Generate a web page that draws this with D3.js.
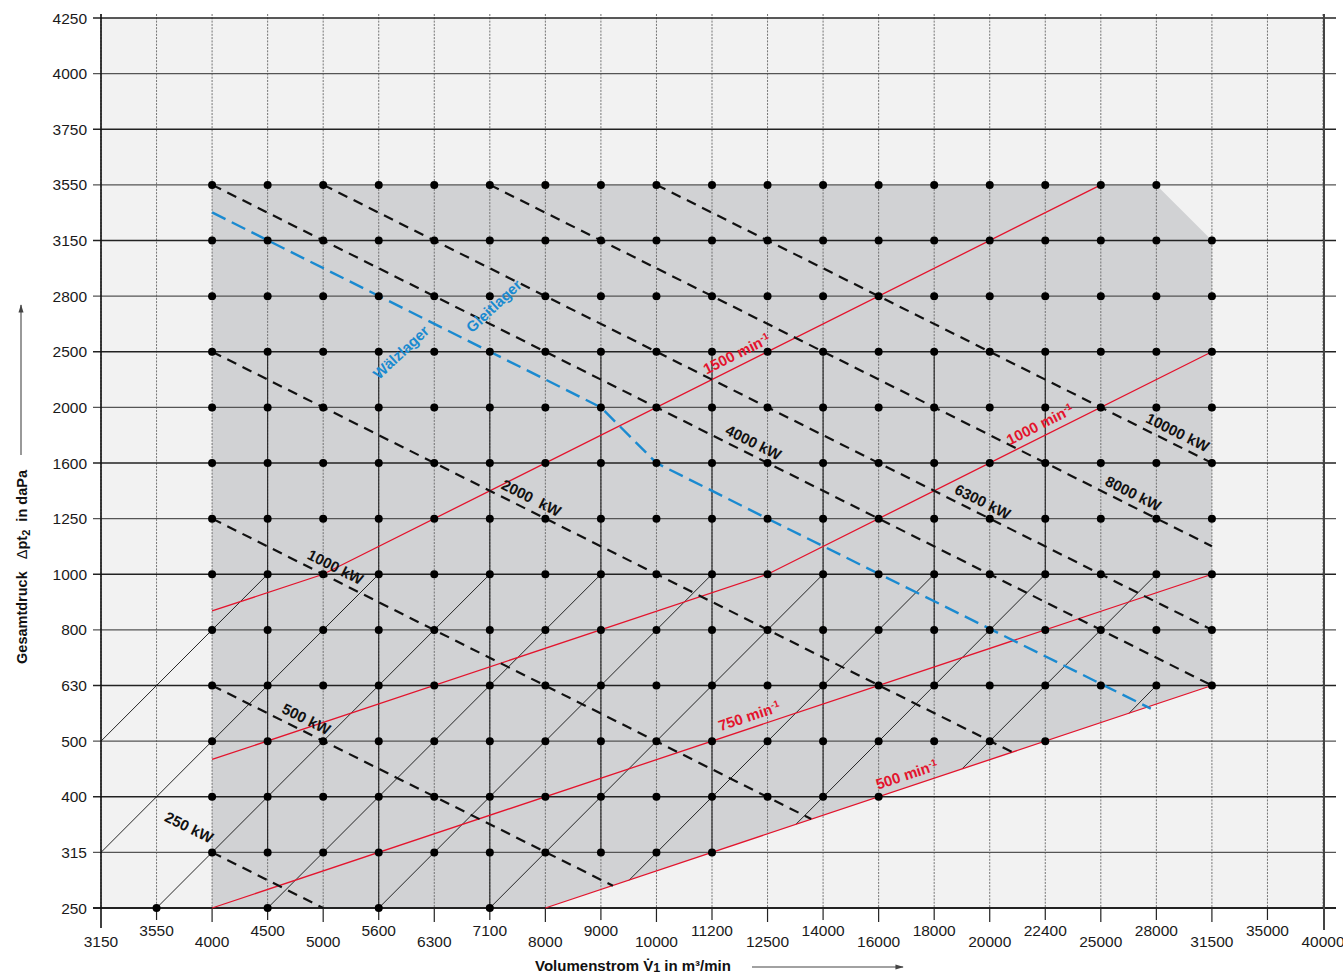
<!DOCTYPE html>
<html>
<head>
<meta charset="utf-8">
<script src="https://cdn.jsdelivr.net/npm/d3@7"></script>
<style>
  body { margin: 0; background: #fff; font-family: "Liberation Sans", Arial, sans-serif; }
</style>
</head>
<body>
<div id="graf"></div>
<script>
// Kategorien (Achsen)
const xVals = [3150, 3550, 4000, 4500, 5000, 5600, 6300, 7100, 8000, 9000, 10000, 11200, 12500, 14000, 16000, 18000, 20000, 22400, 25000, 28000, 31500, 35000, 40000]
const yVals = [250, 315, 400, 500, 630, 800, 1000, 1250, 1600, 2000, 2500, 2800, 3150, 3550, 3750, 4000, 4250]

// Kennfeld (grau hinterlegt)
const feld = [[4000, 3550], [28000, 3550], [31500, 3150], [31500, 630], [22400, 500], [16000, 400], [11200, 315], [8000, 250], [4000, 250]]

// Punkte je Druckstufe: [Druck, von, bis]
const dotRows = [
  [315, 4000, 11200], [400, 4000, 16000], [500, 4000, 22400], [630, 4000, 31500],
  [800, 4000, 31500], [1000, 4000, 31500], [1250, 4000, 31500], [1600, 4000, 31500],
  [2000, 4000, 31500], [2500, 4000, 31500], [2800, 4000, 31500], [3150, 4000, 31500],
  [3550, 4000, 28000],
]
const dots250 = [3550, 4500, 5600, 7100]

// durchgezogene senkrechte Linien: [Volumenstrom, oben, unten]
const rahmen = [[4500, 2500, 315], [5600, 2500, 250], [7100, 2500, 250], [9000, 2500, 315], [11200, 2500, 315], [14000, 2500, 400], [18000, 2500, 630], [22400, 2500, 1000]]

// schräge Hilfslinien
const diagonalen = [
  [[3150, 500], [4500, 1000]], [[3150, 315], [5600, 1000]], [[3550, 250], [7100, 1000]],
  [[4500, 250], [9000, 1000]], [[5600, 250], [11200, 1000]], [[7100, 250], [14000, 1000]],
  [[9500, 282], [18000, 1000]], [[13250, 357], [22400, 1000]], [[19000, 450], [28000, 1000]],
  [[26500, 564], [28000, 630]],
]

// Drehzahlen (rot)
const drehzahlen = ["1500", "1000", "750", "500"]
const drehzahlLinien = [
  [[4000, 868], [5000, 1000], [25000, 3550]],
  [[4000, 467], [12500, 1000], [31500, 2500]],
  [[4000, 250], [31500, 1000]],
  [[8000, 250], [31500, 630]],
]
const drehzahlLabelAt = [11900, 22400, 12160, 17150]

// Leistungen (schwarz gestrichelt)
const leistungen = ["250 kW", "500 kW", "1000 kW", "2000\u00a0\u00a0kW", "4000 kW", "6300 kW", "8000 kW", "10000 kW"]
const leistungLinien = [
  [[4000, 315], [5000, 250]],
  [[4000, 630], [9216, 276]],
  [[4000, 1250], [13680, 366]],
  [[4000, 2500], [20985, 480]],
  [[4000, 3550], [31500, 630]],
  [[5000, 3550], [31500, 800]],
  [[7100, 3550], [31500, 1126]],
  [[10000, 3550], [31500, 1600]],
]
const leistungLabelAt = [3770, 4800, 5075, 7685, 12045, 19550, 26460, 29000]

// Lagergrenze (blau)
const lagergrenze = [[4000, 3352], [9000, 2000], [10000, 1600], [12500, 1250], [27700, 576]]
const lagerTexte = ["Wälzlager", "Gleitlager"]
const lagerTextAt = [[5880, 2495], [7165, 2746]]

// Layout
const W = 1343, H = 975
const plot = { left: 101, right: 1323, top: 18, bottom: 908 }

const svg = d3.select("#graf").append("svg").attr("width", W).attr("height", H)

// Skalen: gleichabständige Kategorien, dazwischen linear
const xp = d3.scalePoint().domain(xVals).range([plot.left, plot.right])
const yp = d3.scalePoint().domain(yVals).range([plot.bottom, plot.top])
const x = d3.scaleLinear().domain(xVals).range(xVals.map(v => xp(v)))
const y = d3.scaleLinear().domain(yVals).range(yVals.map(v => yp(v)))
const line = d3.line().x(d => x(d[0])).y(d => y(d[1]))

// Hintergrund
svg.append("rect")
  .attr("x", plot.left).attr("y", plot.top)
  .attr("width", plot.right - plot.left + 1).attr("height", plot.bottom - plot.top)
  .attr("fill", "#f2f2f2")

svg.append("path").attr("d", line(feld) + "Z").attr("fill", "#d1d2d4")

// senkrechte Rasterlinien (punktiert)
svg.append("g").selectAll("line").data(xVals).join("line")
  .attr("x1", d => x(d)).attr("x2", d => x(d))
  .attr("y1", plot.top - 4).attr("y2", plot.bottom)
  .attr("stroke", "#666").attr("stroke-width", 0.9).attr("stroke-dasharray", "2,1.3")

// waagerechte Rasterlinien
svg.append("g").selectAll("line").data(yVals).join("line")
  .attr("x1", plot.left - 8).attr("x2", plot.right + 13)
  .attr("y1", d => y(d)).attr("y2", d => y(d))
  .attr("stroke", (d, i) => i % 2 ? "#555" : "#222")
  .attr("stroke-width", d => d === 250 ? 2 : 1.3)

// durchgezogene senkrechte Linien
svg.append("g").selectAll("line").data(rahmen).join("line")
  .attr("x1", d => x(d[0])).attr("x2", d => x(d[0]))
  .attr("y1", d => y(d[1])).attr("y2", d => y(d[2]))
  .attr("stroke", "#222").attr("stroke-width", 1.1)

// Achsen
svg.append("line").attr("x1", plot.left).attr("x2", plot.left)
  .attr("y1", plot.top - 4).attr("y2", plot.bottom + 20)
  .attr("stroke", "#111").attr("stroke-width", 1.6)
svg.append("line").attr("x1", plot.right + 1).attr("x2", plot.right + 1)
  .attr("y1", plot.top - 4).attr("y2", plot.bottom + 22)
  .attr("stroke", "#444").attr("stroke-width", 2)

svg.append("g").selectAll("line").data(xVals.slice(1, -1)).join("line")
  .attr("x1", d => x(d)).attr("x2", d => x(d))
  .attr("y1", plot.bottom).attr("y2", (d, i) => plot.bottom + (i % 2 ? 14 : 12))
  .attr("stroke", "#222").attr("stroke-width", 1.2)

svg.append("g").selectAll("text").data(xVals).join("text")
  .attr("x", d => x(d))
  .attr("y", (d, i) => i % 2 ? 936 : 947)
  .attr("text-anchor", "middle")
  .attr("font-size", 15.5).attr("fill", "#1a1a1a")
  .text(d => d)

svg.append("g").selectAll("text").data(yVals).join("text")
  .attr("x", plot.left - 14)
  .attr("y", d => y(d) + 5.5)
  .attr("text-anchor", "end")
  .attr("font-size", 15.5).attr("fill", "#1a1a1a")
  .text(d => d)

// schräge Hilfslinien
svg.append("g").selectAll("path").data(diagonalen).join("path")
  .attr("d", line).attr("fill", "none")
  .attr("stroke", "#111").attr("stroke-width", 0.9)

// Drehzahllinien
svg.append("g").selectAll("path").data(drehzahlLinien).join("path")
  .attr("d", line).attr("fill", "none")
  .attr("stroke", "#e3142d").attr("stroke-width", 1.3)

// Leistungslinien
svg.append("g").selectAll("path").data(leistungLinien).join("path")
  .attr("d", line).attr("fill", "none")
  .attr("stroke", "#111").attr("stroke-width", 2.2).attr("stroke-dasharray", "10,7")

// Lagergrenze
svg.append("path").attr("d", line(lagergrenze)).attr("fill", "none")
  .attr("stroke", "#1a8ad0").attr("stroke-width", 2.4).attr("stroke-dasharray", "15,7")

// Punkte
const punkte = dotRows
  .flatMap(([p, a, b]) => xVals.filter(v => v >= a && v <= b).map(v => [v, p]))
  .concat(dots250.map(v => [v, 250]))
svg.append("g").selectAll("circle").data(punkte).join("circle")
  .attr("cx", d => x(d[0])).attr("cy", d => y(d[1])).attr("r", 4)
  .attr("fill", "#000")

// Beschriftung entlang einer Linie
function along(pts, flow, off) {
  const P = pts.map(d => [x(d[0]), y(d[1])])
  const px = x(flow)
  let k = P.findIndex((p, i) => i < P.length - 1 && px >= p[0] && px <= P[i + 1][0])
  if (k < 0) k = px < P[0][0] ? 0 : P.length - 2
  const a = P[k], b = P[k + 1]
  const ang = Math.atan2(b[1] - a[1], b[0] - a[0])
  const py = a[1] + (px - a[0]) * (b[1] - a[1]) / (b[0] - a[0])
  return { x: px + off * Math.sin(ang), y: py - off * Math.cos(ang), deg: ang * 180 / Math.PI }
}

const rotLbl = svg.append("g").selectAll("text").data(drehzahlen).join("text")
  .attr("transform", (d, i) => {
    const p = along(drehzahlLinien[i], drehzahlLabelAt[i], 12)
    return `translate(${p.x},${p.y}) rotate(${p.deg})`
  })
  .attr("text-anchor", "middle").attr("dy", "0.35em")
  .attr("font-size", 15).attr("font-weight", "bold").attr("fill", "#e3142d")
rotLbl.append("tspan").text(d => d + " min")
rotLbl.append("tspan").attr("font-size", 9.5).attr("dy", -5).text("-1")

svg.append("g").selectAll("text").data(leistungen).join("text")
  .attr("transform", (d, i) => {
    const p = along(leistungLinien[i], leistungLabelAt[i], 12)
    return `translate(${p.x},${p.y}) rotate(${p.deg})`
  })
  .attr("text-anchor", "middle").attr("dy", "0.35em")
  .attr("font-size", 15).attr("font-weight", "bold").attr("fill", "#111")
  .text(d => d)

svg.append("g").selectAll("text").data(lagerTexte).join("text")
  .attr("transform", (d, i) => `translate(${x(lagerTextAt[i][0])},${y(lagerTextAt[i][1])}) rotate(-43)`)
  .attr("text-anchor", "middle").attr("dy", "0.35em")
  .attr("font-size", 15).attr("font-weight", "bold").attr("fill", "#1a8ad0")
  .text(d => d)

// Achsentitel
const defs = svg.append("defs")
defs.append("marker").attr("id", "pfeil").attr("viewBox", "0 0 10 10")
  .attr("refX", 9).attr("refY", 5).attr("markerWidth", 7).attr("markerHeight", 7)
  .attr("orient", "auto")
  .append("path").attr("d", "M0,2 L10,5 L0,8 Z").attr("fill", "#444")

const xt = svg.append("text").attr("x", 633).attr("y", 971)
  .attr("text-anchor", "middle").attr("font-size", 15).attr("font-weight", "bold").attr("fill", "#111")
xt.append("tspan").text("Volumenstrom V\u0307")
xt.append("tspan").attr("font-size", 12.5).attr("dy", 1).text("1")
xt.append("tspan").attr("dy", -1).text(" in m³/min")
svg.append("line").attr("x1", 752).attr("x2", 903).attr("y1", 967).attr("y2", 967)
  .attr("stroke", "#444").attr("stroke-width", 1.2).attr("marker-end", "url(#pfeil)")

const yt = svg.append("text").attr("transform", "translate(27,567) rotate(-90)")
  .attr("text-anchor", "middle").attr("font-size", 14.5).attr("fill", "#111")
yt.append("tspan").attr("font-weight", "bold").text("Gesamtdruck\u00a0\u00a0\u00a0")
yt.append("tspan").text("\u0394")
yt.append("tspan").attr("font-weight", "bold").text("pt")
yt.append("tspan").attr("font-weight", "bold").attr("font-size", 11).attr("dy", 3).text("2")
yt.append("tspan").attr("font-weight", "bold").attr("dy", -3).text("\u00a0\u00a0in daPa")
svg.append("line").attr("x1", 21).attr("x2", 21).attr("y1", 455).attr("y2", 305)
  .attr("stroke", "#555").attr("stroke-width", 1.2).attr("marker-end", "url(#pfeil)")
</script>
</body>
</html>
